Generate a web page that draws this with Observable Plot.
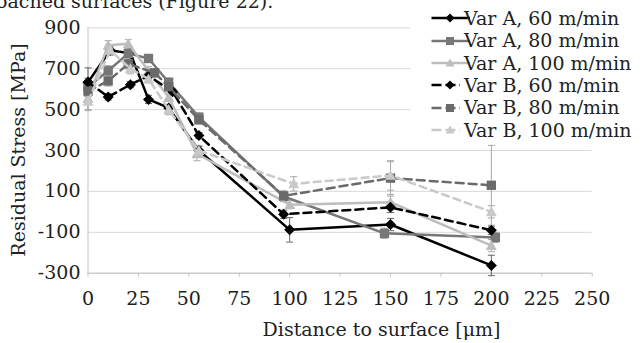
<!DOCTYPE html>
<html><head><meta charset="utf-8">
<script src="https://cdn.jsdelivr.net/npm/d3@7"></script>
<script src="https://cdn.jsdelivr.net/npm/@observablehq/plot@0.6"></script>
<style>
body{margin:0;background:#fff;font-family:"DejaVu Serif",serif;color:#222;}
#wrap{position:relative;width:643px;height:343px;overflow:hidden;background:#fff;}
#wrap svg.chart{position:absolute;left:0;top:0;}
.abs{position:absolute;white-space:nowrap;font-size:19px;line-height:19px;}
#legend{position:absolute;left:410px;top:0;width:233px;height:142px;background:#fff;}
.row{position:absolute;left:0;height:22px;width:233px;}
.row svg{position:absolute;left:10px;top:0;}
.row span{position:absolute;left:54px;top:1.5px;font-size:19px;line-height:19px;white-space:nowrap;}
</style></head><body>
<div id="wrap"></div>
<script>
// ---- data ----
const seriesNames = ["Var A, 60 m/min","Var A, 80 m/min","Var A, 100 m/min","Var B, 60 m/min","Var B, 80 m/min","Var B, 100 m/min"];
const xA60 = [0, 11, 21, 30, 40, 55, 100, 150, 200];
const yA60 = [634, 790, 775, 550, 508, 300, -88, -62, -262];
const eA60 = [70, 20, 20, 20, 15, 20, 60, 30, 50];
const xA80 = [0, 10, 20, 30, 40, 55, 97, 147, 202];
const yA80 = [610, 690, 775, 750, 634, 463, 75, -105, -125];
const eA80 = [25, 25, 25, 20, 20, 20, 25, 25, 25];
const xA100 = [0, 10, 20, 30, 40, 54, 100, 150, 200];
const yA100 = [555, 815, 822, 690, 560, 284, 35, 47, -165];
const eA100 = [60, 22, 20, 20, 20, 34, 20, 30, 30];
const xB60 = [0, 10, 21, 30, 42, 55, 97, 150, 200];
const yB60 = [634, 562, 622, 665, 587, 373, -12, 22, -90];
const eB60 = [20, 15, 15, 15, 15, 15, 20, 25, 20];
const xB80 = [0, 10, 20, 33, 40, 55, 97, 150, 200];
const yB80 = [590, 640, 724, 680, 612, 450, 78, 165, 130];
const eB80 = [25, 25, 25, 20, 20, 20, 25, 80, 195];
const xB100 = [0, 11, 21, 30, 40, 55, 102, 150, 200];
const yB100 = [540, 790, 700, 650, 500, 300, 137, 178, 0];
const eB100 = [40, 25, 25, 20, 25, 25, 35, 72, 30];
const xTicks = [0, 25, 50, 75, 100, 125, 150, 175, 200, 225, 250];
const yTicks = [-300, -100, 100, 300, 500, 700, 900];

// ---- styles per series ----
const colors = ["#000000", "#777777", "#bdbdbd", "#000000", "#6a6a6a", "#c9c9c9"];
const dashes = [null, null, null, "8,5", "8,5", "7,5"];
const shapes = ["diamond", "square", "triangle", "diamond", "square", "triangle"];

const symDiamond = {draw(c, s){ const r = Math.sqrt(s/Math.PI); c.moveTo(0,-r); c.lineTo(r,0); c.lineTo(0,r); c.lineTo(-r,0); c.closePath(); }};
const symSquare = {draw(c, s){ const r = Math.sqrt(s/Math.PI)*0.85; c.rect(-r,-r,2*r,2*r); }};
const symTriangle = {draw(c, s){ const r = Math.sqrt(s/Math.PI); c.moveTo(0,-r); c.lineTo(r,r*0.8); c.lineTo(-r,r*0.8); c.closePath(); }};
const symCap = {draw(c, s){ const r = Math.sqrt(s/Math.PI); c.moveTo(-r,0); c.lineTo(r,0); }};
const symMap = {diamond: symDiamond, square: symSquare, triangle: symTriangle};

const xs = [xA60, xA80, xA100, xB60, xB80, xB100];
const ys = [yA60, yA80, yA100, yB60, yB80, yB100];
const es = [eA60, eA80, eA100, eB60, eB80, eB100];
const tables = seriesNames.map((name, i) => xs[i].map((x, j) => ({series: name, x, y: ys[i][j], err: es[i][j]})));

const marks = [
  Plot.gridY(yTicks, {stroke: "#d9d9d9", strokeOpacity: 1}),
  Plot.ruleY([-300], {stroke: "#c4c4c4"}),
  Plot.ruleX([0], {stroke: "#c4c4c4"}),
  Plot.axisY({ticks: yTicks, tickSize: 0, tickPadding: 7.5, label: null, tickFormat: d => String(d)}),
  Plot.axisX({ticks: xTicks, tickSize: 4, tickPadding: 14, label: null, stroke: "#c4c4c4", tickFormat: d => String(d)})
];
tables.forEach((t, i) => {
  const eb = i === 0 || i === 3 ? "#666" : "#a8a8a8";
  marks.push(Plot.ruleX(t, {x: "x", y1: d => d.y - d.err, y2: d => d.y + d.err, stroke: eb, strokeWidth: 1}));
  marks.push(Plot.dot(t, {x: "x", y: d => d.y + d.err, symbol: symCap, r: 3.5, stroke: eb, strokeWidth: 1}));
  marks.push(Plot.dot(t, {x: "x", y: d => d.y - d.err, symbol: symCap, r: 3.5, stroke: eb, strokeWidth: 1}));
});
tables.forEach((t, i) => {
  marks.push(Plot.line(t, {x: "x", y: "y", stroke: colors[i], strokeWidth: 2.5, strokeDasharray: dashes[i] || undefined}));
  marks.push(Plot.dot(t, {x: "x", y: "y", symbol: symMap[shapes[i]], r: 5.5, fill: colors[i], stroke: "none"}));
});

const chart = Plot.plot({
  width: 643, height: 343,
  marginLeft: 87.5, marginRight: 51.3, marginTop: 27.3, marginBottom: 70.3,
  x: {domain: [0, 250]},
  y: {domain: [-300, 900]},
  style: {fontFamily: "DejaVu Serif", fontSize: "19px", color: "#1e1e1e", background: "transparent", overflow: "visible"},
  marks
});
chart.classList.add("chart");
const wrap = document.getElementById("wrap");
wrap.appendChild(chart);

// top clipped document text (cut at the top edge, as in the source image)
const docText = document.createElement("div");
docText.className = "abs"; docText.style.left = "-4px"; docText.style.top = "-8.5px";
docText.textContent = "oached surfaces (Figure 22).";
wrap.appendChild(docText);

// axis titles
const yt = document.createElement("div");
yt.className = "abs"; yt.style.left = "17.5px"; yt.style.top = "149.5px";
yt.style.transform = "translate(-50%,-50%) rotate(-90deg)";
yt.textContent = "Residual Stress [MPa]";
wrap.appendChild(yt);
const xt = document.createElement("div");
xt.className = "abs"; xt.style.left = "381.5px"; xt.style.top = "319.5px";
xt.style.transform = "translateX(-50%)";
xt.textContent = "Distance to surface [\u03bcm]";
wrap.appendChild(xt);

// legend
const legend = document.createElement("div");
legend.id = "legend";
seriesNames.forEach((name, i) => {
  const row = document.createElement("div");
  row.className = "row";
  row.style.top = (18.3 + i * 22.35 - 11) + "px";
  const cy = 11;
  let shape;
  if (shapes[i] === "diamond") shape = `<path d="M30,${cy-4.5}L34.5,${cy}L30,${cy+4.5}L25.5,${cy}Z" fill="${colors[i]}"/>`;
  else if (shapes[i] === "square") shape = `<rect x="26" y="${cy-4}" width="8" height="8" fill="${colors[i]}"/>`;
  else shape = `<path d="M30,${cy-4.5}L34.5,${cy+3.5}L25.5,${cy+3.5}Z" fill="${colors[i]}"/>`;
  const dash = dashes[i] ? `stroke-dasharray="10,4"` : "";
  const x2 = dashes[i] ? 40 : 50;
  row.innerHTML = `<svg width="52" height="22"><line x1="11.5" y1="${cy}" x2="${x2}" y2="${cy}" stroke="${colors[i]}" stroke-width="2.5" ${dash}/>${shape}</svg><span>${name}</span>`;
  legend.appendChild(row);
});
wrap.appendChild(legend);
</script>
</body></html>
